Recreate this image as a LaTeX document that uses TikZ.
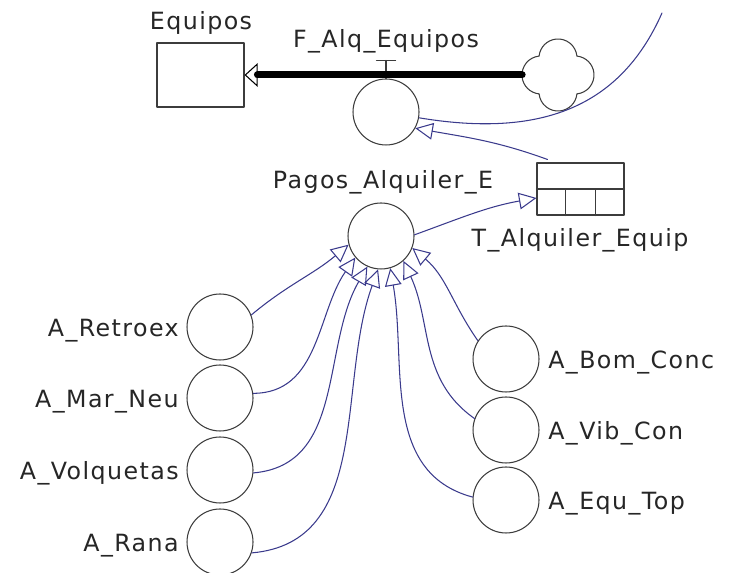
\documentclass[tikz,border=0pt]{standalone}
\usepackage{fontspec}
\setmainfont{DejaVu Sans}[LetterSpace=6]
\usetikzlibrary{arrows.meta,calc}

\definecolor{linkblue}{RGB}{58,58,140}
\definecolor{shapegray}{RGB}{60,60,60}

\begin{document}
\begin{tikzpicture}[x=0.02cm,y=0.02cm,line cap=round,line join=round,
  font=\fontsize{13.5}{16}\selectfont,
  aux/.style={circle,draw=shapegray,line width=.6pt,minimum size=1.32cm,inner sep=0pt},
  lvl/.style={rectangle,draw=shapegray,line width=.6pt,minimum width=1.74cm,minimum height=1.28cm,inner sep=0pt},
  lbl/.style={inner sep=0pt,text=black!85},
  link/.style={draw=linkblue,line width=.6pt,-{Triangle[open,length=10pt,width=9.5pt]}}]
\path[use as bounding box] (0,0) rectangle (729,573);
\node[lvl] (eq) at (200.5,498) {};
\node[aux] (valve) at (386,461) {};
\node[circle,minimum size=1.42cm,inner sep=0pt] (cl) at (558,498) {};
\node[aux] (pagos) at (381,337) {};
\node[lvl,minimum height=1.04cm] (tab) at (580.5,384) {};
\node[aux] (retro) at (220,246) {};
\node[aux] (marneu) at (220,175) {};
\node[aux] (volq) at (220,103) {};
\node[aux] (rana) at (220,31) {};
\node[aux] (bom) at (506,214) {};
\node[aux] (vib) at (506,143) {};
\node[aux] (equ) at (506,73) {};
\coordinate (rim) at (662,560);

\node[lbl,anchor=base] (eqlbl) at (201,543) {Equipos};
\node[lbl,anchor=base] (flowlbl) at (386,525) {F\_Alq\_Equipos};
\node[lbl,anchor=base] (pagoslbl) at (383,384) {Pagos\_Alquiler\_E};
\node[lbl,anchor=base] (tablbl) at (580,326) {T\_Alquiler\_Equip};
\node[lbl,anchor=base east] (retrolbl) at (179,236) {A\_Retroex};
\node[lbl,anchor=base east] (marneulbl) at (179,165) {A\_Mar\_Neu};
\node[lbl,anchor=base east] (volqlbl) at (179,93) {A\_Volquetas};
\node[lbl,anchor=base east] (ranalbl) at (179,21) {A\_Rana};
\node[lbl,anchor=base west] (bomlbl) at (548,204) {A\_Bom\_Conc};
\node[lbl,anchor=base west] (viblbl) at (548,133) {A\_Vib\_Con};
\node[lbl,anchor=base west] (equlbl) at (548,63) {A\_Equ\_Top};

\draw[shapegray,line width=.6pt] ($(cl)+(18.9,18.9)$) arc[start angle=5.7,end angle=174.3,radius=19]
  arc[start angle=95.7,end angle=264.3,radius=19] arc[start angle=185.7,end angle=354.3,radius=19]
  arc[start angle=275.7,end angle=444.3,radius=19] -- cycle;
\draw[shapegray,line width=.6pt] (valve.north) -- ++(0,18) coordinate (vtop);
\draw[shapegray,line width=.6pt] ([xshift=-0.19cm]vtop) -- ([xshift=0.19cm]vtop);
\draw[line width=4pt,-{Triangle[open,line width=.6pt,length=7.5pt,width=13.5pt]}] (cl.west) -- (eq.east);

\draw[shapegray,line width=.6pt] (tab.west) -- (tab.east);
\draw[shapegray,line width=.6pt] ($(tab.south west)!1/3!(tab.south east)$) -- ($(tab.west)!1/3!(tab.east)$);
\draw[shapegray,line width=.6pt] ($(tab.south west)!2/3!(tab.south east)$) -- ($(tab.west)!2/3!(tab.east)$);

\draw[draw=linkblue,line width=.6pt] (valve.-10) .. controls (540,435) and (620,465) .. (rim);
\draw[link] ([xshift=0.22cm,yshift=0.06cm]tab.north west) to[out=160,in=-10] (valve.-29);
\draw[link] (pagos.2) to[out=20,in=190] ([yshift=-0.18cm]tab.west);

\draw[link] (retro.21) to[out=40,in=220] (pagos.195);
\draw[link] (marneu.8) to[out=0,in=235] (pagos.220);
\draw[link] (volq.-5) to[out=5,in=240] (pagos.246);
\draw[link] (rana.-19) to[out=5,in=250] (pagos.265);
\draw[link] (equ.175) to[out=165,in=-80] (pagos.286);
\draw[link] (vib.160) to[out=145,in=-65] (pagos.312);
\draw[link] (bom.147) to[out=125,in=-40] (pagos.339);
\end{tikzpicture}
\end{document}
